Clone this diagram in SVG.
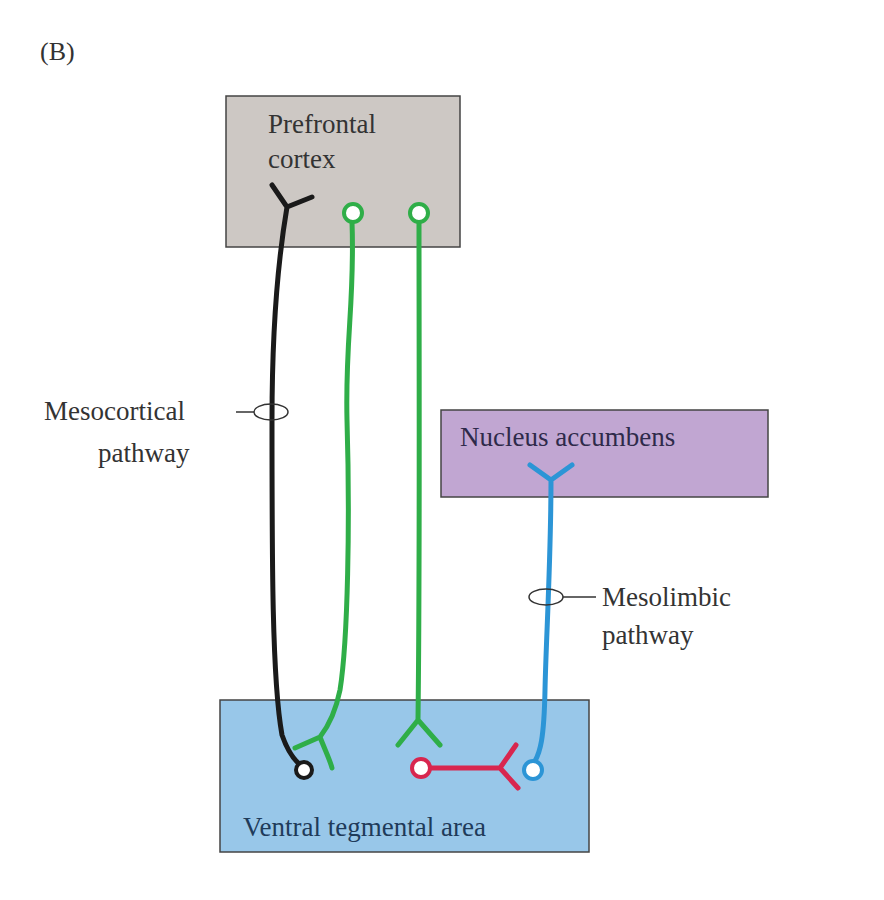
<svg xmlns="http://www.w3.org/2000/svg" width="884" height="900" viewBox="0 0 884 900">
<style>
text{font-family:"Liberation Serif",serif;font-size:27px;fill:#333}
.ax{fill:none;stroke-width:5;stroke-linecap:round;stroke-linejoin:round}
.box{stroke:#444;stroke-width:1.5}
</style>
<rect width="884" height="900" fill="#fff"/>
<text x="40" y="60" style="font-size:26px">(B)</text>
<g id="pfc"><rect class="box" x="226" y="96" width="234" height="151" fill="#cdc8c4"/>
<text x="268" y="133">Prefrontal</text><text x="268" y="168">cortex</text></g>
<g id="nac"><rect class="box" x="441" y="410" width="327" height="87" fill="#c1a6d2"/>
<text x="460" y="446" style="fill:#2e2a4a">Nucleus accumbens</text></g>
<g id="vta"><rect class="box" x="220" y="700" width="369" height="152" fill="#98c7e9"/>
<text x="243" y="836" style="fill:#1f3b5a">Ventral tegmental area</text></g>
<g id="connectors">
<path class="ax" stroke="#1a1a1a" d="M272,185 L287,207 L312,197 M287,207 C278,260 272,330 272,420 C272,560 272,680 282,735 C288,752 296,762 302,766"/>
<circle cx="304" cy="770" r="8" fill="#fff" stroke="#1a1a1a" stroke-width="4"/>
<path class="ax" stroke="#2fae48" d="M352,222 C355,300 345,340 347,420 C350,520 348,640 340,690 C335,715 327,728 320,737 L295,748 M320,737 C325,750 330,760 332,768"/>
<circle cx="353" cy="213" r="9" fill="#fff" stroke="#2fae48" stroke-width="4"/>
<path class="ax" stroke="#2fae48" d="M419,222 C419,350 420,560 418,720 L398,745 M418,720 L440,745"/>
<circle cx="419" cy="213" r="9" fill="#fff" stroke="#2fae48" stroke-width="4"/>
<path class="ax" stroke="#d8264f" d="M430,768 L500,768 L516,745 M500,768 L518,788"/>
<circle cx="421" cy="768" r="9" fill="#fff" stroke="#d8264f" stroke-width="4"/>
<path class="ax" stroke="#2c95d6" d="M530,465 L551,480 L572,465 M551,480 C551,560 546,640 545,690 C544,740 540,752 535,761"/>
<circle cx="533" cy="770" r="9" fill="#fff" stroke="#2c95d6" stroke-width="4"/>
<ellipse cx="271" cy="412" rx="17" ry="8" fill="none" stroke="#333" stroke-width="1.5"/>
<line x1="236" y1="412" x2="254" y2="412" stroke="#333" stroke-width="1.5"/>
<ellipse cx="546" cy="597" rx="17" ry="8" fill="none" stroke="#333" stroke-width="1.5"/>
<line x1="563" y1="597" x2="596" y2="597" stroke="#333" stroke-width="1.5"/>
</g>
<text x="44" y="420">Mesocortical</text><text x="98" y="462">pathway</text>
<text x="602" y="606">Mesolimbic</text><text x="602" y="644">pathway</text>
</svg>
